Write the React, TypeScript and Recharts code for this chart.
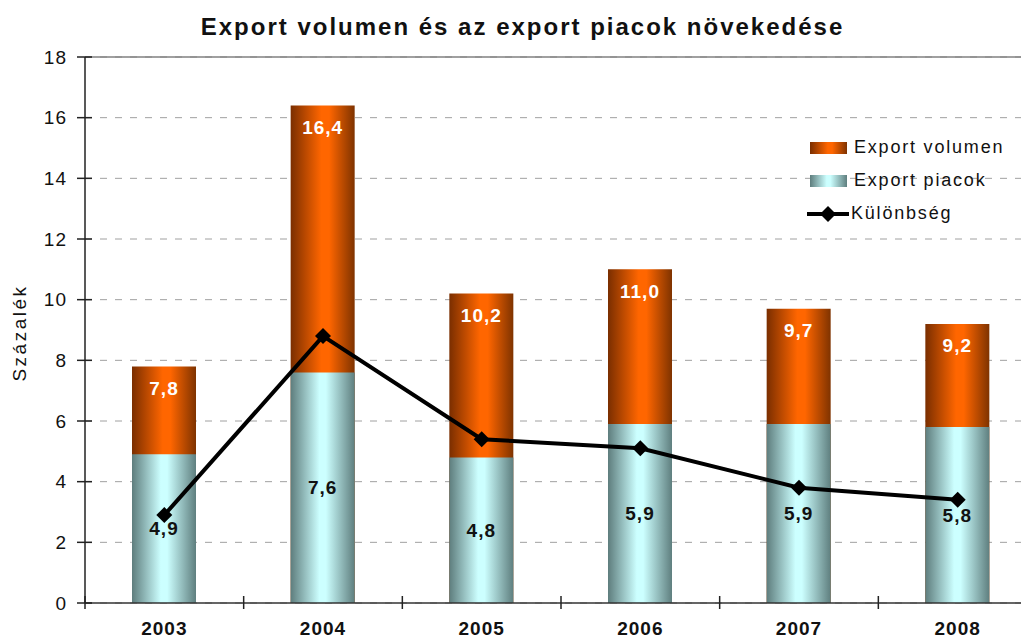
import React from 'react';
import {
  ComposedChart, Bar, Line, XAxis, YAxis, CartesianGrid, LabelList, ReferenceLine,
} from 'recharts';

// 데이터
const years = ['2003', '2004', '2005', '2006', '2007', '2008'];
const exportVolumen = [7.8, 16.4, 10.2, 11.0, 9.7, 9.2];
const exportPiacok = [4.9, 7.6, 4.8, 5.9, 5.9, 5.8];
const kulonbseg = [2.9, 8.8, 5.4, 5.1, 3.8, 3.4];
const yTicks = [0, 2, 4, 6, 8, 10, 12, 14, 16, 18];

const data = years.map((year, i) => ({
  year,
  volumen: exportVolumen[i],
  piacok: exportPiacok[i],
  kulonbseg: kulonbseg[i],
}));

const FONT = "Arial, 'Liberation Sans', sans-serif";
const fmt = (v: any) => Number(v).toFixed(1).replace('.', ',');

const orangeGrad = 'linear-gradient(to right, #7a2e00 0%, #ff6600 48%, #ff6600 60%, #7f3300 100%)';
const cyanGrad = 'linear-gradient(to right, #5e7d7d 0%, #ccffff 45%, #ccffff 55%, #5f7f7f 100%)';

const YTick = ({ x, y, payload }: any) => (
  <g>
    <line x1={x - 8} x2={x + 7} y1={y} y2={y} stroke="#222" strokeWidth={1.5} />
    <text x={x - 18} y={y} textAnchor="end" dominantBaseline="central" fontSize={19} letterSpacing={1} fontFamily={FONT} fill="#111">
      {payload.value}
    </text>
  </g>
);

const XTick = ({ x, y, payload }: any) => {
  const half = payload.offset || 79.33;
  return (
    <g>
      <line x1={x - half} x2={x - half} y1={y - 7} y2={y + 6} stroke="#222" strokeWidth={1.5} />
      <text x={x} y={y + 32} textAnchor="middle" fontSize={19} letterSpacing={1} fontWeight="bold" fontFamily={FONT} fill="#111">
        {payload.value}
      </text>
    </g>
  );
};

const Diamond = ({ cx, cy }: any) => (
  <polygon points={`${cx},${cy - 8} ${cx + 8},${cy} ${cx},${cy + 8} ${cx - 8},${cy}`} fill="#000" />
);

// 범례 (차트 위에 겹쳐서 배치)
const LegendBox = () => {
  const row: React.CSSProperties = { display: 'flex', alignItems: 'center', height: 33 };
  const txt: React.CSSProperties = { fontSize: 18, fontFamily: FONT, color: '#111', marginLeft: 7, letterSpacing: 1.8 };
  return (
    <div style={{ position: 'absolute', left: 807, top: 131 }}>
      <div style={row}>
        <div style={{ width: 37, height: 12, background: orangeGrad, marginLeft: 3 }} />
        <span style={txt}>Export volumen</span>
      </div>
      <div style={row}>
        <div style={{ width: 37, height: 12, background: cyanGrad, marginLeft: 3 }} />
        <span style={txt}>Export piacok</span>
      </div>
      <div style={row}>
        <svg width={42} height={16}>
          <line x1={0} x2={42} y1={8} y2={8} stroke="#000" strokeWidth={4} />
          <polygon points="21,0 29,8 21,16 13,8" fill="#000" />
        </svg>
        <span style={{ ...txt, marginLeft: 2 }}>Különbség</span>
      </div>
    </div>
  );
};

export default function App() {
  return (
    <div style={{ position: 'absolute', left: 0, top: 0, width: 1021, height: 640, overflow: 'hidden', background: '#fff' }}>
      <div style={{ position: 'absolute', left: 0, top: 12, width: 1045, textAlign: 'center', fontFamily: FONT, fontWeight: 'bold', fontSize: 24, letterSpacing: 2, color: '#111', lineHeight: '30px' }}>
        Export volumen és az export piacok növekedése
      </div>
      <div style={{ position: 'absolute', left: 20, top: 333, transform: 'translate(-50%, -50%) rotate(-90deg)', fontFamily: FONT, fontSize: 19, letterSpacing: 2.5, color: '#111', whiteSpace: 'nowrap' }}>
        Százalék
      </div>
      <ComposedChart width={1045} height={640} data={data} margin={{ top: 57, right: 8, bottom: 0, left: 0 }} barGap={-64}>
        <defs>
          <linearGradient id="gOrange" x1="0" y1="0" x2="1" y2="0">
            <stop offset="0%" stopColor="#7a2e00" />
            <stop offset="48%" stopColor="#ff6600" />
            <stop offset="60%" stopColor="#ff6600" />
            <stop offset="100%" stopColor="#7f3300" />
          </linearGradient>
          <linearGradient id="gCyan" x1="0" y1="0" x2="1" y2="0">
            <stop offset="0%" stopColor="#5e7d7d" />
            <stop offset="45%" stopColor="#ccffff" />
            <stop offset="55%" stopColor="#ccffff" />
            <stop offset="100%" stopColor="#5f7f7f" />
          </linearGradient>
        </defs>
        <CartesianGrid vertical={false} stroke="#a0a0a0" strokeDasharray="7 8" />
        <ReferenceLine y={18} stroke="#808080" strokeWidth={1.5} />
        <XAxis dataKey="year" height={37} tickSize={0} tickMargin={0} tickLine={false} tick={<XTick />} axisLine={{ stroke: '#333', strokeWidth: 1.5 }} interval={0} />
        <YAxis width={85} domain={[0, 18]} ticks={yTicks} tickSize={0} tickMargin={0} tickLine={false} tick={<YTick />} axisLine={{ stroke: '#222', strokeWidth: 1.5 }} />
        <Bar dataKey="volumen" name="Export volumen" fill="url(#gOrange)" barSize={64} isAnimationActive={false}>
          <LabelList dataKey="volumen" position="insideTop" offset={15} formatter={fmt} fill="#fff" fontSize={19} letterSpacing={1} fontWeight="bold" fontFamily={FONT} />
        </Bar>
        <Bar dataKey="piacok" name="Export piacok" fill="url(#gCyan)" barSize={64} isAnimationActive={false}>
          <LabelList dataKey="piacok" position="center" formatter={fmt} fill="#111" fontSize={19} letterSpacing={1} fontWeight="bold" fontFamily={FONT} />
        </Bar>
        <Line dataKey="kulonbseg" name="Különbség" type="linear" stroke="#000" strokeWidth={4} dot={<Diamond />} activeDot={false} isAnimationActive={false} />
      </ComposedChart>
      <LegendBox />
    </div>
  );
}
